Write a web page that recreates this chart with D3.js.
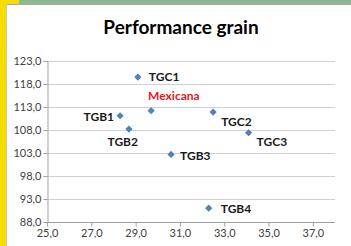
<!DOCTYPE html>
<html>
<head>
<meta charset="utf-8">
<script src="https://cdn.jsdelivr.net/npm/d3@7"></script>
<style>
  body { margin: 0; background: #fff; }
  svg { display: block; font-family: Lato, 'Open Sans', sans-serif; }
</style>
</head>
<body>
<svg id="chart" width="351" height="246"></svg>
<script>
// data
const names = ['TGC1', 'Mexicana', 'TGB1', 'TGB2', 'TGC2', 'TGC3', 'TGB3', 'TGB4'];
const xValues = [29.1, 29.7, 28.3, 28.7, 32.5, 34.1, 30.6, 32.3];
const yValues = [119.5, 112.2, 111.1, 108.2, 111.9, 107.4, 102.7, 91.0];
const xTicks = [25, 27, 29, 31, 33, 35, 37];
const yTicks = [88, 93, 98, 103, 108, 113, 118, 123];

// label offsets (pixels) relative to the marker
const labelPos = {
  TGC1: [11, 4, 'start'],
  Mexicana: [-3, -11, 'start'],
  TGB1: [-6, 5, 'end'],
  TGB2: [9, 17, 'end'],
  TGC2: [8, 14, 'start'],
  TGC3: [8, 13, 'start'],
  TGB3: [9, 6, 'start'],
  TGB4: [12, 5, 'start'],
};

const data = names.map((n, i) => ({ name: n, x: xValues[i], y: yValues[i] }));

const svg = d3.select('#chart');

// frame decoration
svg.append('rect').attr('x', 0).attr('y', 0).attr('width', 351).attr('height', 246).attr('fill', '#fff');
svg.append('rect').attr('x', 0).attr('y', 0).attr('width', 351).attr('height', 4).attr('fill', '#8db894');
svg.append('rect').attr('x', 0).attr('y', 0).attr('width', 19).attr('height', 4).attr('fill', '#f7dc00');
svg.append('rect').attr('x', 0).attr('y', 0).attr('width', 6).attr('height', 246).attr('fill', '#f7dc00');
svg.append('line').attr('x1', 6).attr('x2', 351).attr('y1', 4.5).attr('y2', 4.5)
  .attr('stroke', '#a8a8a8').attr('stroke-width', 1);
svg.append('line').attr('x1', 6.5).attr('x2', 6.5).attr('y1', 4).attr('y2', 246)
  .attr('stroke', '#c8c8c8').attr('stroke-width', 1);

const margin = { top: 61, left: 47, right: 16, bottom: 24 };
const width = 335 - margin.left;
const height = 222 - margin.top;

const x = d3.scaleLinear().domain([25, 38]).range([margin.left, margin.left + width]);
const y = d3.scaleLinear().domain([88, 123]).range([margin.top + height, margin.top]);

// title
svg.append('text')
  .attr('x', 181).attr('y', 34)
  .attr('text-anchor', 'middle')
  .attr('font-size', 19).attr('font-weight', 'bold')
  .attr('fill', '#000')
  .text('Performance grain');

// grid lines
svg.append('g')
  .selectAll('line')
  .data(yTicks.slice(1))
  .join('line')
  .attr('x1', margin.left).attr('x2', margin.left + width)
  .attr('y1', (d) => Math.round(y(d)) + 0.5).attr('y2', (d) => Math.round(y(d)) + 0.5)
  .attr('stroke', '#d0d0d0');

// y axis
const yAxis = d3.axisLeft(y).tickValues(yTicks).tickSize(4)
  .tickFormat((d) => d3.format('.1f')(d).replace('.', ','));
const gy = svg.append('g')
  .attr('transform', 'translate(' + (margin.left + 0.5) + ',0)')
  .call(yAxis);

// x axis
const xAxis = d3.axisBottom(x).tickValues(xTicks).tickSize(4)
  .tickFormat((d) => d3.format('.1f')(d).replace('.', ','));
const gx = svg.append('g')
  .attr('transform', 'translate(0,' + (Math.round(y(88)) + 0.5) + ')')
  .call(xAxis);
gx.select('.domain').attr('d', 'M' + margin.left + ',0H' + (margin.left + width));

[gx, gy].forEach((g) => {
  g.selectAll('.domain').attr('stroke', '#a0a0a0');
  g.selectAll('.tick line').attr('stroke', '#a0a0a0');
  g.selectAll('.tick text').attr('fill', '#404040').attr('font-size', 11)
    .attr('font-family', 'Lato, "Open Sans", sans-serif');
});
gy.selectAll('.tick line').attr('x2', -4);
gy.selectAll('.tick text').attr('x', -6);
gx.selectAll('.tick text').attr('y', 7);

// markers (square rotated 45 degrees)
const diamond = d3.symbol().type(d3.symbolSquare).size(26);
svg.append('g')
  .selectAll('path')
  .data(data)
  .join('path')
  .attr('transform', (d) => 'translate(' + x(d.x) + ',' + y(d.y) + ') rotate(45)')
  .attr('d', diamond)
  .attr('fill', '#4f81bd');

// labels
svg.append('g')
  .selectAll('text')
  .data(data)
  .join('text')
  .attr('x', (d) => x(d.x) + labelPos[d.name][0])
  .attr('y', (d) => y(d.y) + labelPos[d.name][1])
  .attr('text-anchor', (d) => labelPos[d.name][2])
  .attr('font-size', 12).attr('font-weight', 'bold')
  .attr('fill', (d) => d.name === 'Mexicana' ? '#e8141c' : '#1a1a1a')
  .text((d) => d.name);
</script>
</body>
</html>
